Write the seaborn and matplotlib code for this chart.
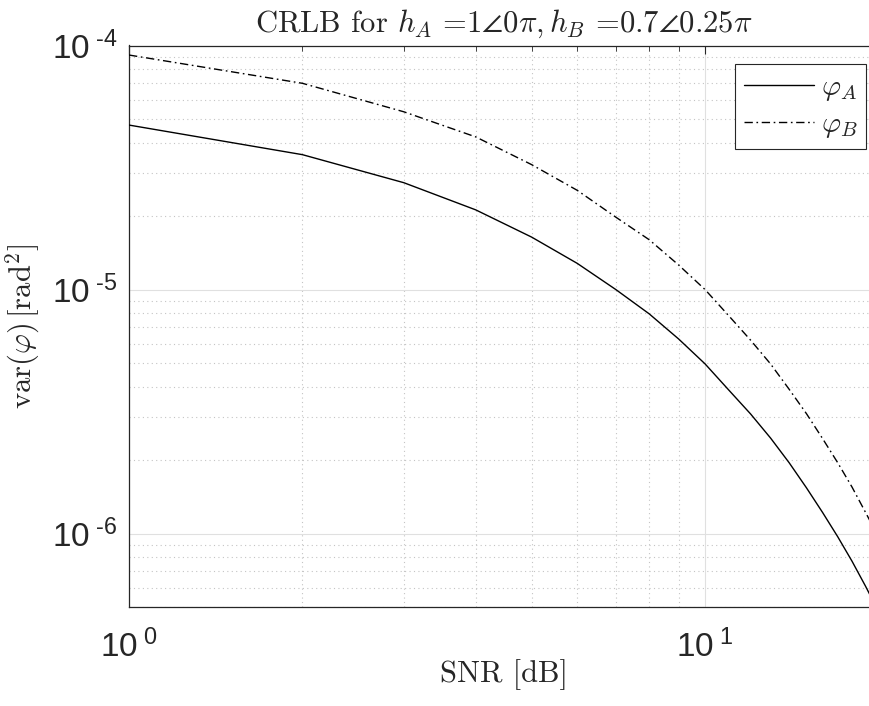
import numpy as np
import pandas as pd
import matplotlib
matplotlib.use("Agg")
import matplotlib.pyplot as plt
import matplotlib.ticker as mticker
import seaborn as sns

# ---- data ----
snr = [1, 2, 3, 4, 5, 6, 7, 8, 9, 10, 11, 12, 13, 14, 15, 16, 17, 18, 19, 20]
var_A = [4.72e-5, 3.57e-5, 2.74e-5, 2.12e-5, 1.64e-5, 1.28e-5, 1.00e-5, 7.95e-6,
         6.27e-6, 4.96e-6, 3.87e-6, 3.09e-6, 2.46e-6, 1.95e-6, 1.54e-6, 1.22e-6,
         9.70e-7, 7.70e-7, 6.08e-7, 4.80e-7]
var_B = [9.14e-5, 7.00e-5, 5.35e-5, 4.22e-5, 3.25e-5, 2.55e-5, 1.98e-5, 1.60e-5,
         1.26e-5, 1.00e-5, 7.80e-6, 6.20e-6, 4.95e-6, 3.90e-6, 3.10e-6, 2.45e-6,
         1.95e-6, 1.55e-6, 1.22e-6, 9.70e-7]
series_names = [r'$\varphi_A$', r'$\varphi_B$']
xtick_vals = [1, 10]
xtick_labels = [r'$10^{\ 0}$', r'$10^{\ 1}$']
ytick_vals = [1e-6, 1e-5, 1e-4]
ytick_labels = ['$10^{\\ \u20106}$', '$10^{\\ \u20105}$', '$10^{\\ \u20104}$']

df = pd.DataFrame({
    'snr': snr + snr,
    'var': var_A + var_B,
    'series': [series_names[0]] * len(snr) + [series_names[1]] * len(snr),
})

sns.set_theme(style='white')
plt.rcParams['mathtext.fontset'] = 'custom'
plt.rcParams['mathtext.rm'] = 'Liberation Sans'
plt.rcParams['mathtext.it'] = 'Liberation Sans:italic'
plt.rcParams['mathtext.fallback'] = 'stix'
plt.rcParams['font.family'] = ['Liberation Sans', 'DejaVu Sans']

fig = plt.figure(figsize=(8.7, 7.06), dpi=100)
L, R, T, B = 129, 878.4, 45.5, 607
W, H = 870, 706
ax = fig.add_axes([L / W, (H - B) / H, (R - L) / W, (B - T) / H])

dash_map = {series_names[0]: '', series_names[1]: (6, 2.6, 1.2, 2.6)}
sns.lineplot(data=df, x='snr', y='var', style='series', dashes=dash_map,
             color='black', linewidth=1.0, ax=ax, legend=False, zorder=3)

ax.set_xscale('log')
ax.set_yscale('log')
ax.set_xlim(1, 20)
ax.set_ylim(5e-7, 1e-4)

ax.set_xticks(xtick_vals)
ax.set_xticklabels(xtick_labels)
ax.set_yticks(ytick_vals)
ax.set_yticklabels(ytick_labels)
ax.xaxis.set_minor_locator(mticker.LogLocator(base=10, subs=np.arange(2, 10), numticks=20))
ax.yaxis.set_minor_locator(mticker.LogLocator(base=10, subs=np.arange(2, 10), numticks=20))
ax.xaxis.set_minor_formatter(mticker.NullFormatter())
ax.yaxis.set_minor_formatter(mticker.NullFormatter())

ax.tick_params(which='both', direction='in', top=True, right=True, colors='#262626')
ax.tick_params(which='major', length=6, width=0.8, labelsize=24)
ax.tick_params(which='minor', length=3.5, width=0.6)
ax.tick_params(axis='x', which='major', pad=16)
ax.tick_params(axis='y', which='major', pad=8)

ax.grid(True, which='major', color='#e0e0e0', linestyle='-', linewidth=0.8, zorder=0)
ax.grid(True, which='minor', color='#c4c4c4', linestyle=(0, (1, 3)), linewidth=0.8, zorder=0)
ax.set_axisbelow(True)

for s in ax.spines.values():
    s.set_color('#262626')
    s.set_linewidth(0.9)

ax.set_xlabel('SNR [dB]', fontfamily='cmr10', fontsize=22, labelpad=-3)
ax.set_ylabel(r'$\mathrm{var}(\varphi)\,[\mathrm{rad}^2]$', fontsize=22,
              math_fontfamily='cm', labelpad=7)
ax.set_title(r'CRLB for $h_A$ =$1\angle 0\pi, h_B$ =$0.7\angle 0.25\pi$',
             fontfamily='cmr10', math_fontfamily='cm', fontsize=22, pad=10)

handles = ax.get_lines()[:2]
leg = ax.legend(handles, series_names, loc='upper right',
                bbox_to_anchor=(0.984, 0.967), borderaxespad=0,
                fancybox=False, framealpha=1, edgecolor='#262626',
                fontsize=21, handlelength=2.4, handletextpad=0.25,
                labelspacing=0.25, borderpad=0.3)
leg.get_frame().set_linewidth(0.8)
for t in leg.get_texts():
    t.set_math_fontfamily('cm')

fig.savefig('out.png', dpi=100)
